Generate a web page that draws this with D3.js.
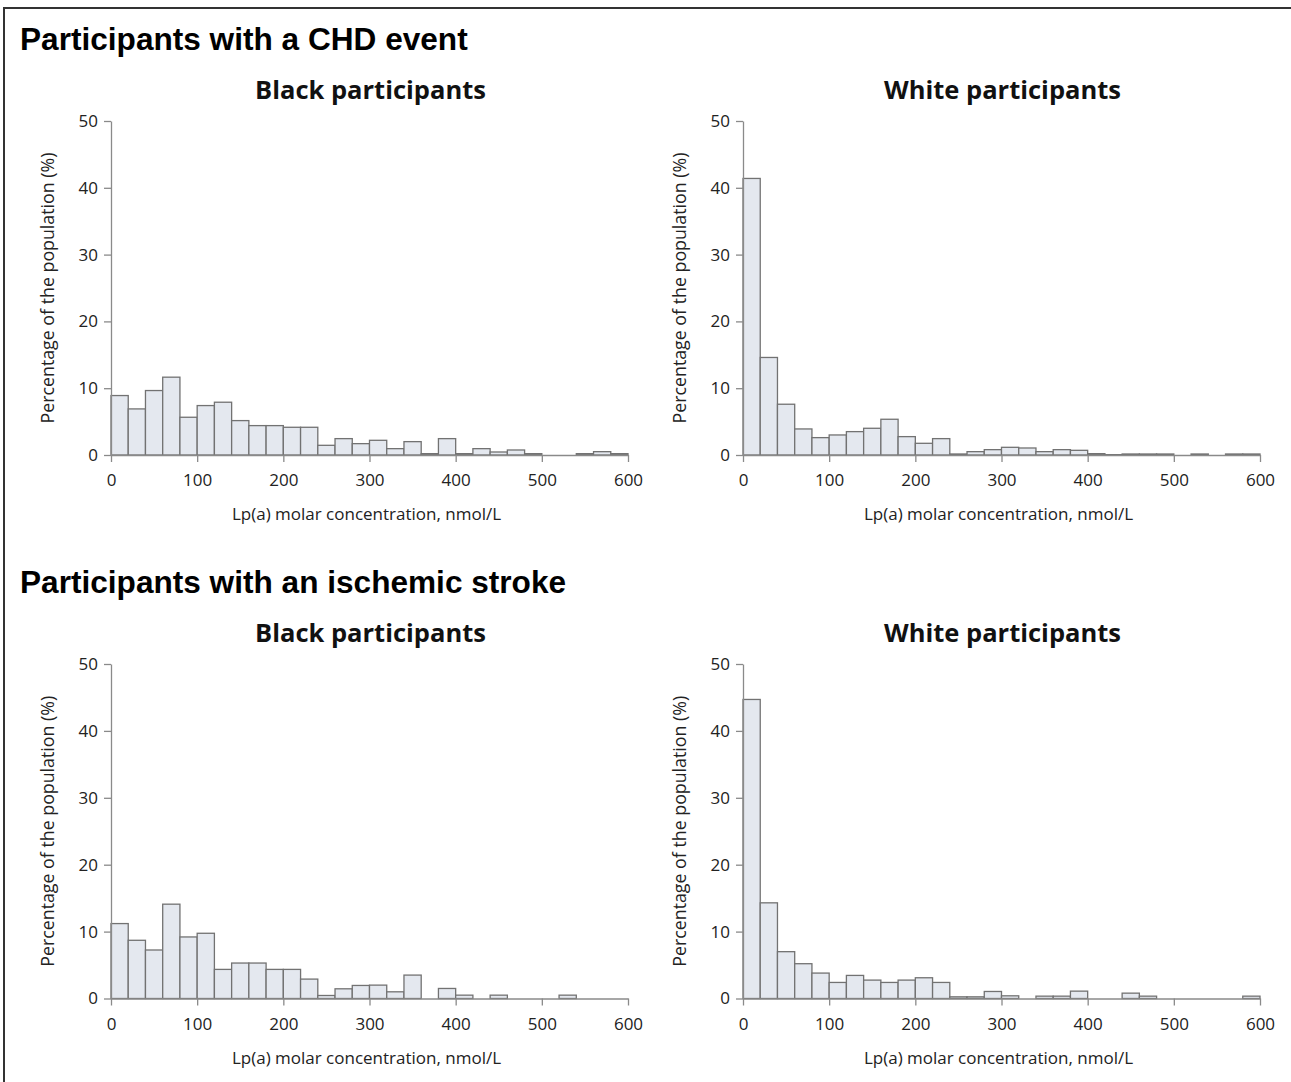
<!DOCTYPE html>
<html>
<head>
<meta charset="utf-8">
<script src="https://cdn.jsdelivr.net/npm/d3@7"></script>
<style>
  body { margin: 0; background: #fff; }
  svg { display: block; }
</style>
</head>
<body>
<div id="container"></div>
<script>
// bin lower edges, nmol/L (bins are 20 wide)
let binStarts = d3.range(0, 600, 20);
let xTicks = [0, 100, 200, 300, 400, 500, 600];
let yTicks = [0, 10, 20, 30, 40, 50];

let sectionTitles = ["Participants with a CHD event", "Participants with an ischemic stroke"];
let panelTitles = ["Black participants", "White participants"];

// percentage of population per bin
let chdBlack = [8.9, 6.9, 9.65, 11.65, 5.65, 7.4, 7.9, 5.15, 4.4, 4.4,
  4.15, 4.15, 1.45, 2.45, 1.7, 2.2, 0.95, 2.0, 0.2, 2.45,
  0.2, 0.95, 0.45, 0.75, 0.2, 0, 0, 0.2, 0.5, 0.2];
let chdWhite = [41.4, 14.6, 7.6, 3.9, 2.6, 3.0, 3.5, 4.0, 5.35, 2.75,
  1.75, 2.45, 0.15, 0.5, 0.8, 1.15, 1.05, 0.5, 0.8, 0.7,
  0.2, 0.05, 0.15, 0.15, 0.15, 0, 0.15, 0, 0.15, 0.15];
let strokeBlack = [11.2, 8.7, 7.25, 14.1, 9.2, 9.75, 4.35, 5.3, 5.3, 4.35,
  4.35, 2.9, 0.45, 1.45, 1.95, 2.0, 1.0, 3.5, 0, 1.5,
  0.5, 0, 0.5, 0, 0, 0, 0.5, 0, 0, 0];
let strokeWhite = [44.7, 14.3, 7.0, 5.2, 3.8, 2.4, 3.45, 2.75, 2.4, 2.75,
  3.1, 2.4, 0.25, 0.25, 1.05, 0.4, 0, 0.35, 0.35, 1.1,
  0, 0, 0.8, 0.35, 0, 0, 0, 0, 0, 0.35];

let w = 1291, h = 1082;

let viz = d3.select("#container")
  .append("svg")
    .attr("width", w)
    .attr("height", h)
;

// frame (top and left edges only)
viz.append("line").attr("x1", 3).attr("x2", w).attr("y1", 8).attr("y2", 8)
  .attr("stroke", "#333").attr("stroke-width", 2);
viz.append("line").attr("x1", 4).attr("x2", 4).attr("y1", 8).attr("y2", h)
  .attr("stroke", "#333").attr("stroke-width", 2);

let panels = [
  { data: chdBlack, left: 111, top: 121, bottom: 455, section: 0, sub: 0 },
  { data: chdWhite, left: 743, top: 121, bottom: 455, section: 0, sub: 1 },
  { data: strokeBlack, left: 111, top: 664, bottom: 998.5, section: 1, sub: 0 },
  { data: strokeWhite, left: 743, top: 664, bottom: 998.5, section: 1, sub: 1 }
];

// section headings
viz.selectAll(".section")
  .data(sectionTitles)
  .enter()
  .append("text")
    .attr("class", "section")
    .attr("x", 20)
    .attr("y", (d, i) => i == 0 ? 50 : 593)
    .attr("font-family", "Liberation Sans, Arial, sans-serif")
    .attr("font-weight", "bold")
    .attr("font-size", 31.6)
    .attr("fill", "#000")
    .text(d => d)
;

let axisFont = "Open Sans, Noto Sans, sans-serif";

function drawPanel(p){
  let plotW = 517;
  let x = d3.scaleLinear().domain([0, 600]).range([p.left, p.left + plotW]);
  let y = d3.scaleLinear().domain([0, 50]).range([p.bottom, p.top]);

  let g = viz.append("g").attr("class", "panel");

  // panel title
  g.append("text")
    .attr("x", x(300) + 1)
    .attr("y", p.top - 22)
    .attr("text-anchor", "middle")
    .attr("font-family", axisFont)
    .attr("font-weight", "bold")
    .attr("font-size", 25.5)
    .attr("fill", "#111")
    .text(panelTitles[p.sub])
  ;

  // bars
  let bins = binStarts.map((b, i) => ({ x0: b, x1: b + 20, v: p.data[i] }));
  g.selectAll(".bar")
    .data(bins)
    .enter()
    .append("rect")
      .attr("class", "bar")
      .attr("x", d => x(d.x0))
      .attr("width", d => x(d.x1) - x(d.x0))
      .attr("y", d => y(d.v))
      .attr("height", d => y(0) - y(d.v))
      .attr("fill", "#e4e8ef")
      .attr("stroke", d => d.v > 0 ? "#727272" : "none")
      .attr("stroke-width", 1.3)
  ;

  // axes
  let xAxis = d3.axisBottom(x).tickValues(xTicks).tickSize(7).tickPadding(12).tickSizeOuter(0);
  let yAxis = d3.axisLeft(y).tickValues(yTicks).tickSize(7).tickPadding(6).tickSizeOuter(0);

  let gx = g.append("g").attr("transform", "translate(0," + p.bottom + ")").call(xAxis);
  let gy = g.append("g").attr("transform", "translate(" + p.left + ",0)").call(yAxis);

  [gx, gy].forEach(a => {
    a.select(".domain").attr("stroke", "#8a8a8a").attr("stroke-width", 1.3);
    a.selectAll(".tick line").attr("stroke", "#8a8a8a").attr("stroke-width", 1.3);
    a.selectAll(".tick text")
      .attr("font-family", axisFont)
      .attr("font-size", 17)
      .attr("fill", "#222");
  });

  // axis titles
  g.append("text")
    .attr("x", x(300) - 3)
    .attr("y", p.bottom + 65)
    .attr("text-anchor", "middle")
    .attr("font-family", axisFont)
    .attr("font-size", 17)
    .attr("fill", "#222")
    .text("Lp(a) molar concentration, nmol/L")
  ;

  g.append("text")
    .attr("transform", "translate(" + (p.left - 57) + "," + ((p.top + p.bottom) / 2) + ") rotate(-90)")
    .attr("text-anchor", "middle")
    .attr("font-family", axisFont)
    .attr("font-size", 17.8)
    .attr("fill", "#222")
    .text("Percentage of the population (%)")
  ;
}

panels.forEach(drawPanel);
</script>
</body>
</html>
